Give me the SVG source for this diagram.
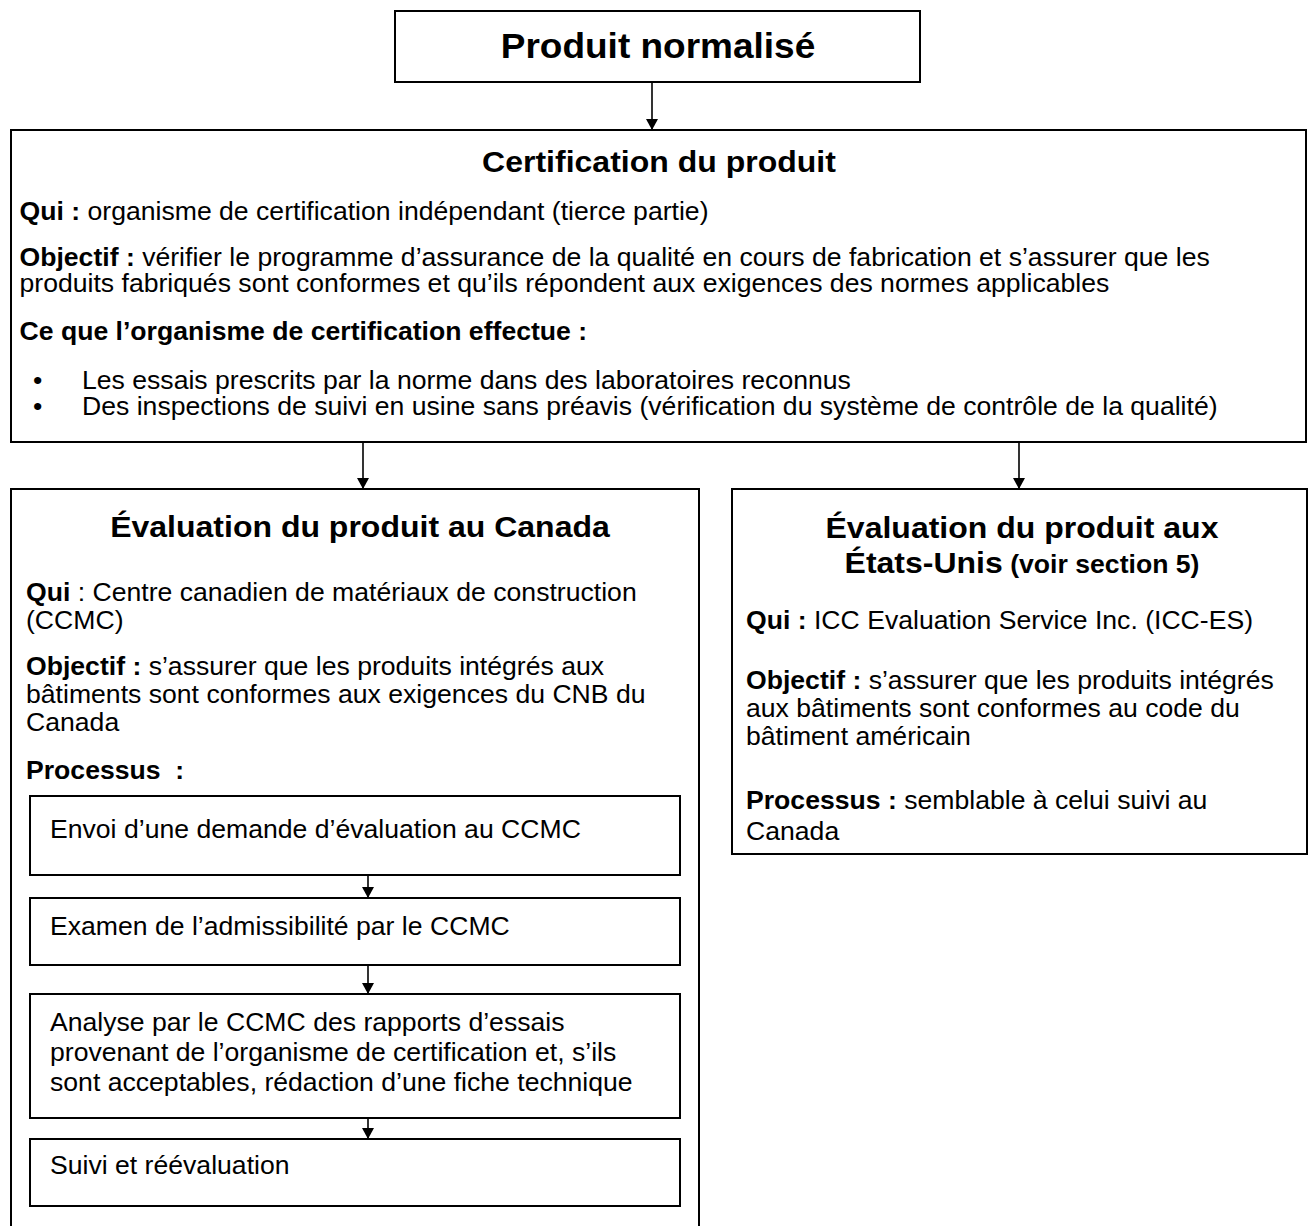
<svg xmlns="http://www.w3.org/2000/svg" width="1310" height="1226" viewBox="0 0 1310 1226">
<style>
  .box{fill:#fff;stroke:#000;stroke-width:2}
  .ibox{fill:none;stroke:#000;stroke-width:2}
  .conn line{stroke:#000;stroke-width:1.6}
  text{font-family:"Liberation Sans",Arial,Helvetica,sans-serif;fill:#000}
  .t{font-size:25.1px}
  .h{font-size:30.2px;font-weight:bold}
  .b{font-weight:bold}
  .mid{text-anchor:middle}
</style>
<defs>
  <marker id="arr" viewBox="0 0 12 13" refX="12" refY="6.5" markerWidth="13" markerHeight="12" markerUnits="userSpaceOnUse" orient="auto">
    <path d="M0,0 L12,6.5 L0,13 z" fill="#000"/>
  </marker>
</defs>
<rect width="1310" height="1226" fill="#fff"/>

<g id="produit-normalise">
  <rect class="box" x="395" y="11" width="525" height="71"/>
  <text class="mid b" x="620.75" y="58" font-size="34.9" transform="scale(1.06,1)">Produit normalisé</text>
</g>

<g id="certification">
  <rect class="box" x="11" y="130" width="1295" height="312"/>
  <g transform="scale(1.06,1)">
    <text class="h mid" x="621.7" y="172">Certification du produit</text>
    <text class="t" x="18.4" y="220"><tspan class="b">Qui :</tspan> organisme de certification indépendant (tierce partie)</text>
    <text class="t" x="18.4" y="266"><tspan class="b">Objectif :</tspan> vérifier le programme d’assurance de la qualité en cours de fabrication et s’assurer que les</text>
    <text class="t" x="18.4" y="292">produits fabriqués sont conformes et qu’ils répondent aux exigences des normes applicables</text>
    <text class="t b" x="18.4" y="340">Ce que l’organisme de certification effectue :</text>
    <text class="t" x="31.1" y="389">•</text>
    <text class="t" x="77.36" y="389">Les essais prescrits par la norme dans des laboratoires reconnus</text>
    <text class="t" x="31.1" y="415">•</text>
    <text class="t" x="77.36" y="415">Des inspections de suivi en usine sans préavis (vérification du système de contrôle de la qualité)</text>
  </g>
</g>

<g id="evaluation-canada">
  <rect class="box" x="11" y="489" width="688" height="760"/>
  <g transform="scale(1.06,1)">
    <text class="h mid" x="339.62" y="537">Évaluation du produit au Canada</text>
    <text class="t" x="24.53" y="601"><tspan class="b">Qui</tspan> : Centre canadien de matériaux de construction</text>
    <text class="t" x="24.53" y="629">(CCMC)</text>
    <text class="t" x="24.53" y="675"><tspan class="b">Objectif :</tspan> s’assurer que les produits intégrés aux</text>
    <text class="t" x="24.53" y="703">bâtiments sont conformes aux exigences du CNB du</text>
    <text class="t" x="24.53" y="731">Canada</text>
    <text class="t b" x="24.53" y="779">Processus&#160; :</text>
  </g>
  <g id="etape-envoi">
    <rect class="ibox" x="30" y="796" width="650" height="79"/>
    <text class="t" x="47.17" y="838" transform="scale(1.06,1)">Envoi d’une demande d’évaluation au CCMC</text>
  </g>
  <g id="etape-examen">
    <rect class="ibox" x="30" y="898" width="650" height="67"/>
    <text class="t" x="47.17" y="935" transform="scale(1.06,1)">Examen de l’admissibilité par le CCMC</text>
  </g>
  <g id="etape-analyse">
    <rect class="ibox" x="30" y="994" width="650" height="124"/>
    <g transform="scale(1.06,1)">
      <text class="t" x="47.17" y="1031">Analyse par le CCMC des rapports d’essais</text>
      <text class="t" x="47.17" y="1061">provenant de l’organisme de certification et, s’ils</text>
      <text class="t" x="47.17" y="1091">sont acceptables, rédaction d’une fiche technique</text>
    </g>
  </g>
  <g id="etape-suivi">
    <rect class="ibox" x="30" y="1139" width="650" height="67"/>
    <text class="t" x="47.17" y="1174" transform="scale(1.06,1)">Suivi et réévaluation</text>
  </g>
</g>

<g id="evaluation-etats-unis">
  <rect class="box" x="732" y="489" width="575" height="365"/>
  <g transform="scale(1.06,1)">
    <text class="h mid" x="964.15" y="538">Évaluation du produit aux</text>
    <text class="h mid" x="964.15" y="573">États-Unis<tspan font-size="25.1"> (voir section 5)</tspan></text>
    <text class="t" x="703.77" y="629"><tspan class="b">Qui :</tspan> ICC Evaluation Service Inc. (ICC-ES)</text>
    <text class="t" x="703.77" y="689"><tspan class="b">Objectif :</tspan> s’assurer que les produits intégrés</text>
    <text class="t" x="703.77" y="717">aux bâtiments sont conformes au code du</text>
    <text class="t" x="703.77" y="745">bâtiment américain</text>
    <text class="t" x="703.77" y="809"><tspan class="b">Processus :</tspan> semblable à celui suivi au</text>
    <text class="t" x="703.77" y="840">Canada</text>
  </g>
</g>

<g id="connectors" class="conn">
  <line x1="652" y1="82" x2="652" y2="130" marker-end="url(#arr)"/>
  <line x1="363" y1="442" x2="363" y2="489" marker-end="url(#arr)"/>
  <line x1="1019" y1="442" x2="1019" y2="489" marker-end="url(#arr)"/>
  <line x1="368" y1="875" x2="368" y2="898" marker-end="url(#arr)"/>
  <line x1="368" y1="965" x2="368" y2="994" marker-end="url(#arr)"/>
  <line x1="368" y1="1118" x2="368" y2="1139" marker-end="url(#arr)"/>
</g>
</svg>
